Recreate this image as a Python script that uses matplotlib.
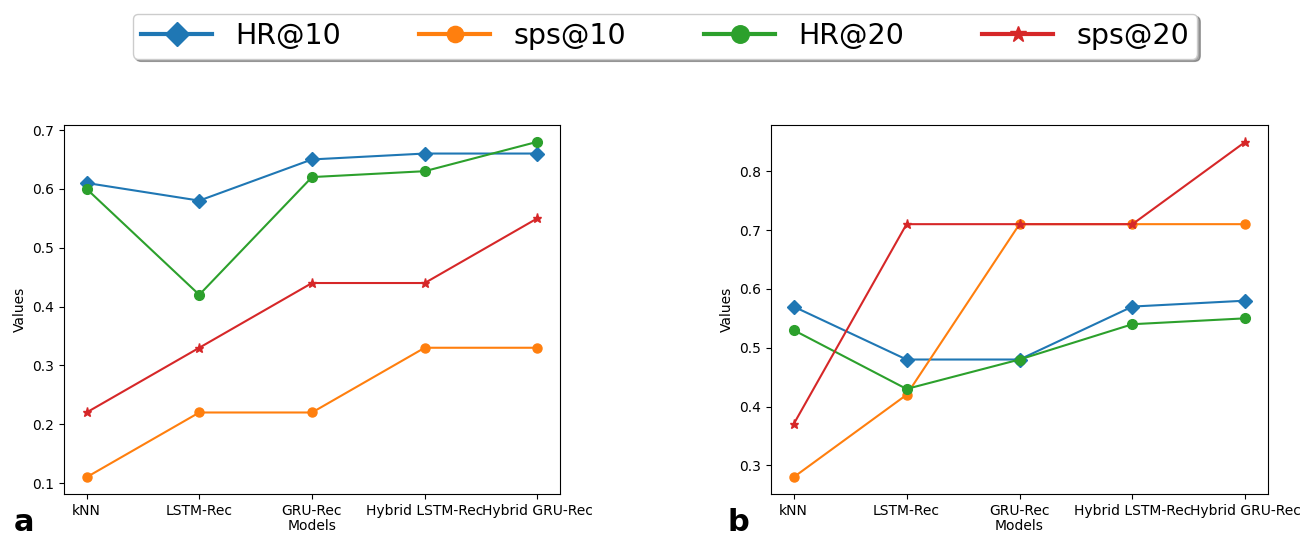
import matplotlib
matplotlib.use('Agg')
import matplotlib.pyplot as plt

models = ['kNN', 'LSTM-Rec', 'GRU-Rec', 'Hybrid LSTM-Rec', 'Hybrid GRU-Rec']
seriesNames = ['HR@10', 'sps@10', 'HR@20', 'sps@20']

# panel a
hr10A = [0.61, 0.58, 0.65, 0.66, 0.66]
sps10A = [0.11, 0.22, 0.22, 0.33, 0.33]
hr20A = [0.60, 0.42, 0.62, 0.63, 0.68]
sps20A = [0.22, 0.33, 0.44, 0.44, 0.55]

# panel b
hr10B = [0.57, 0.48, 0.48, 0.57, 0.58]
sps10B = [0.28, 0.42, 0.71, 0.71, 0.71]
hr20B = [0.53, 0.43, 0.48, 0.54, 0.55]
sps20B = [0.37, 0.71, 0.71, 0.71, 0.85]

colors = ['#1f77b4', '#ff7f0e', '#2ca02c', '#d62728']
markers = ['D', 'o', 'o', '*']
msizes = [7, 6.5, 7, 6.5]


def drawPanel(ax, data):
    lines = []
    for vals, name, c, m, ms in zip(data, seriesNames, colors, markers, msizes):
        ln, = ax.plot(models, vals, color=c, marker=m, markersize=ms, label=name, lw=1.5)
        lines.append(ln)
    ax.set_xlabel('Models', fontsize=10, labelpad=1)
    ax.set_ylabel('Values', fontsize=10)
    ax.tick_params(labelsize=10)
    return lines


fig = plt.figure(figsize=(13.04, 5.38), dpi=100)
axA = fig.add_axes([64 / 1304, 44 / 538, 496 / 1304, 369 / 538])
axB = fig.add_axes([771 / 1304, 44 / 538, 497 / 1304, 369 / 538])

lines = drawPanel(axA, [hr10A, sps10A, hr20A, sps20A])
drawPanel(axB, [hr10B, sps10B, hr20B, sps20B])

fig.text(14 / 1304, 1 / 538, 'a', fontsize=22, fontweight='bold', va='bottom', ha='left')
fig.text(728 / 1304, 1 / 538, 'b', fontsize=22, fontweight='bold', va='bottom', ha='left')

leg = fig.legend(handles=lines, labels=seriesNames, loc='center', bbox_to_anchor=(0.51, 0.933),
                 ncol=4, fontsize=20.5, shadow=True, markerscale=1.8, handlelength=2.5,
                 handletextpad=0.8, columnspacing=2.75, frameon=True, fancybox=True,
                 borderpad=0.3, borderaxespad=0)
for h in leg.legend_handles:
    h.set_linewidth(3)

fig.savefig('out.png', dpi=100)
